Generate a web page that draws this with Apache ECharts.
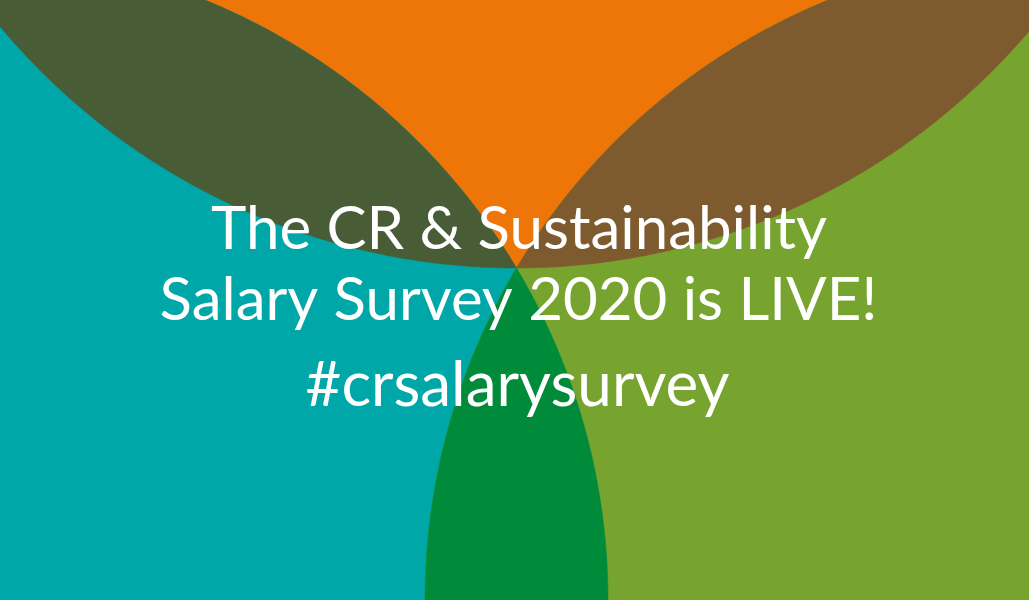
<!DOCTYPE html>
<html>
<head>
<meta charset="utf-8">
<style>
  html, body { margin: 0; padding: 0; background: #EE7508; }
  #chart { width: 1029px; height: 600px; }
</style>
<script src="https://cdn.jsdelivr.net/npm/echarts@6/dist/echarts.min.js"></script>
</head>
<body>
<div id="chart"></div>
<script>
// ---- data: three overlapping circles (centre x, centre y, radius) in picture units ----
const circleNames = ['Top', 'Left', 'Right'];
const circleX = [516.5, -40, 1073];
const circleY = [-405, 600, 600];
const circleR = [673, 648, 648];

// shapes: single circles, then pairwise overlaps (lenses)
const shapeNames = ['Top', 'Left', 'Right', 'Left ∩ Top', 'Right ∩ Top', 'Left ∩ Right'];
const shapeMembers = [[0], [1], [2], [1, 0], [2, 0], [1, 2]];

// text lines
const textLines = ['The CR & Sustainability', 'Salary Survey 2020 is LIVE!', '#crsalarysurvey'];

// ---- styles ----
const shapeColors = ['#EE7508', '#00A7A8', '#77A42E', '#485C36', '#7E5A2F', '#008B3B'];
const textSizes = [60, 60, 62];
const textX = [519, 518.5, 517.5];
const textTop = [200, 271, 355];

function lensPoints(a, b) {
  const x1 = circleX[a], y1 = circleY[a], r1 = circleR[a];
  const x2 = circleX[b], y2 = circleY[b], r2 = circleR[b];
  const dx = x2 - x1, dy = y2 - y1;
  const d = Math.sqrt(dx * dx + dy * dy);
  const aa = (r1 * r1 - r2 * r2 + d * d) / (2 * d);
  const alpha = Math.acos(Math.max(-1, Math.min(1, aa / r1)));
  const beta = Math.acos(Math.max(-1, Math.min(1, (d - aa) / r2)));
  const phi = Math.atan2(dy, dx);
  const psi = phi + Math.PI;
  const pts = [];
  const n = 240;
  for (let i = 0; i <= n; i++) {
    const t = phi - alpha + (2 * alpha) * i / n;
    pts.push([x1 + r1 * Math.cos(t), y1 + r1 * Math.sin(t)]);
  }
  for (let i = 0; i <= n; i++) {
    const t = psi - beta + (2 * beta) * i / n;
    pts.push([x2 + r2 * Math.cos(t), y2 + r2 * Math.sin(t)]);
  }
  return pts;
}

const seriesData = shapeNames.map((name, i) => ({ name: name, value: [i] }));

const chart = echarts.init(document.getElementById('chart'), null, { renderer: 'canvas' });
chart.setOption({
  backgroundColor: '#EE7508',
  animation: false,
  grid: { left: 0, right: 0, top: 0, bottom: 0, containLabel: false },
  xAxis: { type: 'value', min: 0, max: 1029, show: false },
  yAxis: { type: 'value', min: 0, max: 600, inverse: true, show: false },
  tooltip: { show: false },
  series: [{
    type: 'custom',
    coordinateSystem: 'cartesian2d',
    clip: true,
    silent: true,
    data: seriesData,
    encode: { x: 0, y: 0 },
    renderItem: function (params, api) {
      const idx = api.value(0);
      const members = shapeMembers[idx];
      const color = shapeColors[idx];
      if (members.length === 1) {
        const c = members[0];
        const p = api.coord([circleX[c], circleY[c]]);
        const r = api.size([circleR[c], 0])[0];
        return {
          type: 'circle',
          shape: { cx: p[0], cy: p[1], r: r },
          style: { fill: color, stroke: color, lineWidth: 0.5 }
        };
      }
      const pts = lensPoints(members[0], members[1]).map(q => api.coord(q));
      return {
        type: 'polygon',
        shape: { points: pts },
        style: { fill: color, stroke: color, lineWidth: 0.5 }
      };
    }
  }],
  graphic: textLines.map((t, i) => ({
    type: 'text',
    x: textX[i],
    y: textTop[i],
    style: {
      text: t,
      fill: '#FFFFFF',
      font: 'normal ' + textSizes[i] + 'px Lato',
      fontFamily: 'Lato',
      fontSize: textSizes[i],
      align: 'center',
      textAlign: 'center',
      verticalAlign: 'top',
      textVerticalAlign: 'top'
    },
    silent: true,
    z: 100
  }))
});
</script>
</body>
</html>
